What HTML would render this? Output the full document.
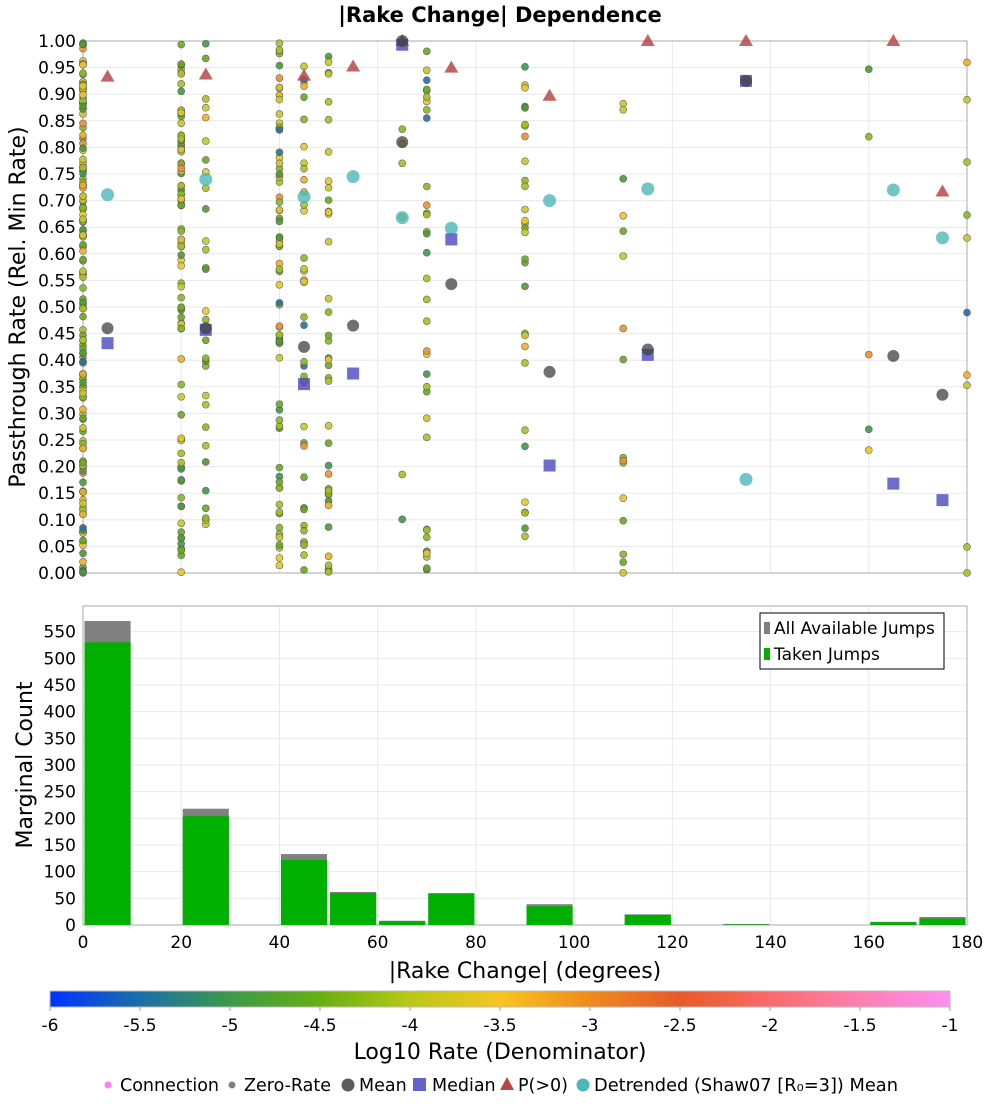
<!DOCTYPE html>
<html><head><meta charset="utf-8"><style>
body{margin:0;background:#fff;width:1000px;height:1100px;overflow:hidden}
svg text{font-family:"DejaVu Sans","Liberation Sans",sans-serif;fill:#000}
</style></head><body>
<svg id="s" width="1000" height="1100" xmlns="http://www.w3.org/2000/svg">
<defs><linearGradient id="cb" x1="0" x2="1">
<stop offset="0" stop-color="#0033ff"/><stop offset="0.1" stop-color="#1a6fa8"/>
<stop offset="0.2" stop-color="#3c9a4a"/><stop offset="0.3" stop-color="#66b010"/>
<stop offset="0.4" stop-color="#b8c818"/><stop offset="0.5" stop-color="#f7c520"/>
<stop offset="0.6" stop-color="#f08a1e"/><stop offset="0.7" stop-color="#e85a28"/>
<stop offset="0.8" stop-color="#fb6a6a"/><stop offset="0.9" stop-color="#ff7fb0"/>
<stop offset="1" stop-color="#ff90f0"/></linearGradient></defs>
<g id="g"></g>
</svg>
<script>
const g=document.getElementById('g');let h='';
const X=d=>83+d*884/180, YT=v=>573-v*532, YB=c=>925-c*320/600;
h+='<text x="500" y="22" font-size="21" font-weight="bold" text-anchor="middle">|Rake Change| Dependence</text>';
for(let i=0;i<=20;i++){let y=YT(i*0.05);h+=`<line x1="83" x2="967" y1="${y}" y2="${y}" stroke="#e8e8e8"/>`;h+=`<text x="76" y="${y+6}" font-size="17" text-anchor="end">${(i*0.05).toFixed(2)}</text>`;}
for(let d=20;d<180;d+=20){h+=`<line x1="${X(d)}" x2="${X(d)}" y1="41" y2="573" stroke="#e8e8e8"/>`;h+=`<line x1="${X(d)}" x2="${X(d)}" y1="606" y2="925" stroke="#e8e8e8"/>`;}
for(let c=0;c<=550;c+=50){let y=YB(c);h+=`<line x1="83" x2="967" y1="${y}" y2="${y}" stroke="#e8e8e8"/>`;h+=`<text x="76" y="${y+6}" font-size="17" text-anchor="end">${c}</text>`;}
h+='<rect x="83" y="41" width="884" height="532" fill="none" stroke="#aaa"/>';
h+='<rect x="83" y="606" width="884" height="319" fill="none" stroke="#aaa"/>';
h+='<text transform="translate(25,307) rotate(-90)" font-size="22" text-anchor="middle">Passthrough Rate (Rel. Min Rate)</text>';
h+='<text transform="translate(32,765) rotate(-90)" font-size="22" text-anchor="middle">Marginal Count</text>';
let s=7;const r=()=>{s=(s*16807)%2147483647;return s/2147483647};
const cols=['#2a6fa0','#3c9a4a','#4c9a30','#6aa820','#8ab820','#a8c020','#c8c828','#e8c828','#f0b020','#f09030'];
const colsW=[1,2,4,6,7,7,6,5,3,2];let cw=[];colsW.forEach((w,i)=>{for(let k=0;k<w;k++)cw.push(cols[i])});
const col=()=>cw[Math.floor(r()*cw.length)];
const colsX=[[0,160],[20,90],[25,30],[40,70],[45,40],[50,40],[65,6],[70,35],[90,30],[110,16],[160,5],[180,10]];
colsX.forEach(([d,n])=>{for(let i=0;i<n;i++){let v=r();h+=`<circle cx="${X(d)}" cy="${YT(v)}" r="3.5" fill="${col()}" stroke="#555" stroke-width="0.6" opacity="0.9"/>`;}});
const det=[[5,.711],[25,.74],[45,.707],[55,.745],[65,.668],[75,.648],[95,.70],[115,.722],[135,.176],[165,.72],[175,.63]];
det.forEach(([d,v])=>h+=`<circle cx="${X(d)}" cy="${YT(v)}" r="6.5" fill="#4cb8b8" opacity="0.8"/>`);
const tri=[[5,.933],[25,.937],[45,.935],[55,.952],[65,1],[75,.95],[95,.897],[115,1],[135,1],[165,1],[175,.717]];
tri.forEach(([d,v])=>{let x=X(d),y=YT(v);h+=`<polygon points="${x},${y-7} ${x-7},${y+5} ${x+7},${y+5}" fill="#b84848" opacity="0.85"/>`});
const med=[[5,.432],[25,.457],[45,.355],[55,.375],[65,.993],[75,.627],[95,.202],[115,.41],[135,.925],[165,.168],[175,.137]];
med.forEach(([d,v])=>h+=`<rect x="${X(d)-6}" y="${YT(v)-6}" width="12" height="12" fill="#4848c0" opacity="0.8"/>`);
const mean=[[5,.46],[25,.46],[45,.425],[55,.465],[65,.81],[75,.543],[95,.378],[115,.42],[135,.925],[165,.408],[175,.335],[65,1]];
mean.forEach(([d,v])=>h+=`<circle cx="${X(d)}" cy="${YT(v)}" r="6" fill="#404040" opacity="0.75"/>`);
const bars=[[0,570,530],[20,218,204],[40,133,122],[50,62,60],[60,8,7],[70,60,58],[90,39,35],[110,20,19],[130,2,1],[160,6,5],[170,15,12]];
bars.forEach(([d,a,t])=>{let x=X(d)+1.5,w=X(10)-83-3;h+=`<rect x="${x}" y="${YB(a)}" width="${w}" height="${925-YB(a)}" fill="#808080"/>`;h+=`<rect x="${x}" y="${YB(t)}" width="${w}" height="${925-YB(t)}" fill="#00b000"/>`;});
for(let d=0;d<=180;d+=20)h+=`<text x="${X(d)}" y="948" font-size="17" text-anchor="middle">${d}</text>`;
h+='<text x="525" y="978" font-size="22" text-anchor="middle">|Rake Change| (degrees)</text>';
h+='<rect x="760" y="613" width="184" height="56" fill="#fff" stroke="#000"/>';
h+='<rect x="764" y="622" width="6" height="12" fill="#808080"/><text x="774" y="634" font-size="17">All Available Jumps</text>';
h+='<rect x="764" y="648" width="6" height="12" fill="#00b000"/><text x="774" y="660" font-size="17">Taken Jumps</text>';
h+='<rect x="50" y="991" width="900" height="16" fill="url(#cb)" stroke="#bbb"/>';
[-6,-5.5,-5,-4.5,-4,-3.5,-3,-2.5,-2,-1.5,-1].forEach((v,i)=>{let x=50+i*90;h+=`<line x1="${x}" x2="${x}" y1="1007" y2="1011" stroke="#999"/><text x="${x}" y="1031" font-size="17" text-anchor="middle">${v}</text>`});
h+='<text x="500" y="1059" font-size="22" text-anchor="middle">Log10 Rate (Denominator)</text>';
let L='';
L+='<circle cx="108" cy="1085" r="3.5" fill="#ff80f0"/><text x="120" y="1091" font-size="17.5">Connection</text>';
L+='<circle cx="232" cy="1085" r="3.5" fill="#808080"/><text x="244" y="1091" font-size="17.5">Zero-Rate</text>';
L+='<circle cx="348" cy="1085" r="6.5" fill="#404040" opacity="0.85"/><text x="359" y="1091" font-size="17.5">Mean</text>';
L+='<rect x="413" y="1078" width="13" height="13" fill="#4848c0" opacity="0.85"/><text x="432" y="1091" font-size="17.5">Median</text>';
L+='<polygon points="507,1077 500,1090 514,1090" fill="#b84848"/><text x="518" y="1091" font-size="17.5">P(&gt;0)</text>';
L+='<circle cx="583" cy="1085" r="6.5" fill="#4cb8b8"/><text x="594" y="1091" font-size="17.5" textLength="304" lengthAdjust="spacingAndGlyphs">Detrended (Shaw07 [R₀=3]) Mean</text>';
h+=L;
g.innerHTML=h;
</script>
</body></html>
